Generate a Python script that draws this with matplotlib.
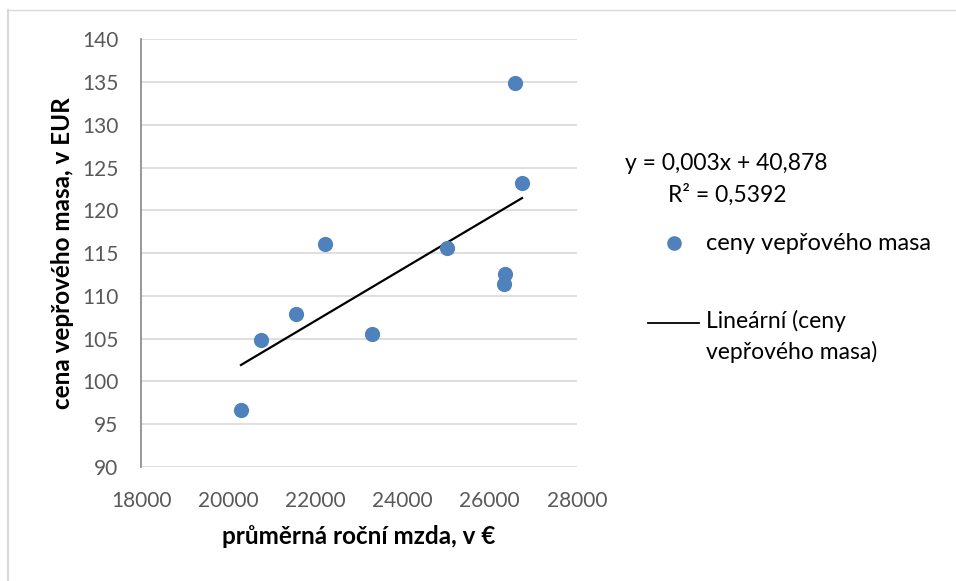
import numpy as np
import matplotlib.pyplot as plt
from matplotlib.lines import Line2D

# Average annual wage (EUR) vs. pork price (EUR)
mzda = [20289, 20749, 21552, 22225, 23290, 25027, 26358, 26328, 26574, 26742]
cena = [96.7, 104.8, 107.9, 116.1, 105.6, 115.65, 112.6, 111.4, 134.9, 123.2]

x_ticks = [18000, 20000, 22000, 24000, 26000, 28000]
y_ticks = [90, 95, 100, 105, 110, 115, 120, 125, 130, 135, 140]

rovnice = "y = 0,003x + 40,878"
r2_text = "R² = 0,5392"
serie = "ceny vepřového masa"
trend_label = "Lineární (ceny\nvepřového masa)"

blue = '#4f81bd'
grid_c = '#d9d9d9'
tick_c = '#595959'

W, H = 956, 581
plt.rcParams['font.family'] = ['Lato', 'DejaVu Sans']

fig = plt.figure(figsize=(W/100, H/100), dpi=100)

def fx(px):
    return px / W

def fy(py):
    return 1 - py / H

# outer chart frame (runs off the right and bottom edges)
fig.add_artist(Line2D([fx(7.5), fx(955)], [fy(10), fy(10)], color=grid_c, lw=1))
fig.add_artist(Line2D([fx(7.5), fx(7.5)], [fy(10), fy(581)], color=grid_c, lw=1.5))

ax = fig.add_axes([fx(141.3), fy(467), (576.8-141.3)/W, (467-39.3)/H])

ax.set_xlim(18000, 28000)
ax.set_ylim(90, 140)
ax.set_xticks(x_ticks)
ax.set_yticks(y_ticks)
ax.tick_params(length=0, labelsize=15, colors=tick_c)
ax.tick_params(axis='x', pad=17)
ax.tick_params(axis='y', pad=16.5)
ax.grid(axis='y', color=grid_c, lw=1.2)
ax.set_axisbelow(True)
for s in ['top', 'right', 'bottom']:
    ax.spines[s].set_visible(False)
ax.spines['left'].set_color('#868686')
ax.spines['left'].set_linewidth(1.2)

ax.scatter(mzda, cena, s=120, color=blue, zorder=3, linewidths=0)

# linear trendline over the data range
k, q = np.polyfit(mzda, cena, 1)
xs = np.array([min(mzda), max(mzda)])
ax.plot(xs, k*xs + q, color='black', lw=1.6, zorder=2)

ax.set_xlabel("průměrná roční mzda, v €", fontsize=17.5, fontweight='bold', va='center')
ax.set_ylabel("cena vepřového masa, v EUR", fontsize=17.5, fontweight='bold', va='center')
ax.xaxis.set_label_coords(0.5, (467-537)/427.7)
ax.yaxis.set_label_coords((62-141.3)/435.5, 0.5)

# legend area
fs = 16.5
fig.text(fx(625), fy(163), rovnice, fontsize=fs, va='center', ha='left')
fig.text(fx(668), fy(195), r2_text, fontsize=fs, va='center', ha='left')
fig.add_artist(Line2D([fx(674)], [fy(243)], marker='o', ms=10.5, color=blue, mew=0))
fig.text(fx(706), fy(243), serie, fontsize=17, va='center', ha='left')
fig.add_artist(Line2D([fx(648), fx(699)], [fy(323), fy(323)], color='black', lw=1.3))
fig.text(fx(706), fy(310), trend_label, fontsize=fs, va='top', ha='left', linespacing=1.5)

fig.savefig('out.png', dpi=100)
